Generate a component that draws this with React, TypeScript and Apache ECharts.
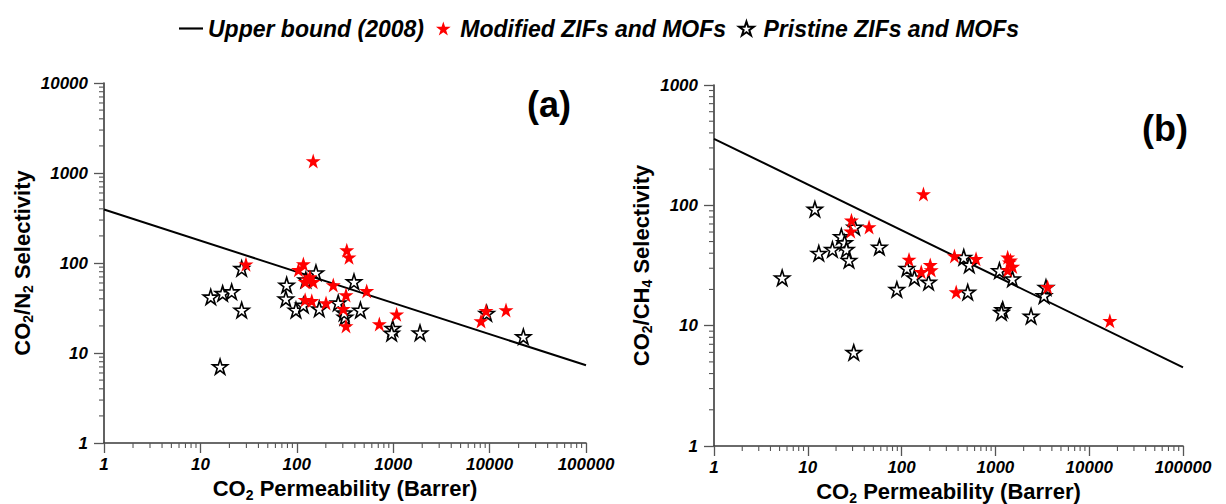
import React, { useEffect, useRef } from "react";
import * as echarts from "echarts";

// ---------- Legend / series names ----------
const NAME_BOUND = "Upper bound (2008)";
const NAME_MOD = "Modified ZIFs and MOFs";
const NAME_PRIS = "Pristine ZIFs and MOFs";

// ---------- Axis ranges (decades) ----------
const xRange = [1, 100000];
const yRangeA = [1, 10000];
const yRangeB = [1, 1000];

// ---------- Robeson upper bound (2008) end points ----------
const boundA = [
  [1, 393],
  [100000, 7.3],
];
const boundB = [
  [1, 357],
  [100000, 4.5],
];

// ---------- Panel (a): CO2/N2 ----------
const modifiedA = [
  [148, 1360], [330, 139], [348, 116], [29.7, 97], [117, 97.5], [104, 84],
  [137, 70], [130, 66], [122, 62], [148, 62], [239, 57], [531, 49], [324, 44],
  [122, 39], [143, 38], [201, 36], [304, 31], [324, 20], [718, 21], [1086, 27],
  [9180, 29.5], [8150, 22.7], [14800, 30],
];
const pristineA = [
  [26.8, 87], [12.8, 42], [17, 46], [21.1, 48], [26.8, 30], [16, 7.05],
  [78.5, 57], [77, 40], [98, 30], [158, 78], [124, 65], [117, 34], [171, 31],
  [392, 62], [269, 36], [316, 25], [310, 28], [457, 30], [988, 18.8], [964, 16.6],
  [1897, 16.8], [9330, 27.6], [22400, 15.2],
];

// ---------- Panel (b): CO2/CH4 ----------
const modifiedB = [
  [171, 124], [29.2, 75], [28.7, 61], [45, 66], [120, 35.5], [162, 28],
  [202, 32], [207, 29], [366, 38], [382, 19], [622, 36], [1352, 37],
  [1409, 33.7], [1528, 31], [1352, 29], [1450, 35], [3600, 21], [16600, 11],
];
const pristineB = [
  [5.33, 25], [11.9, 93], [13.1, 40], [18.3, 43], [22.8, 55], [24.7, 49],
  [25.8, 43], [27.5, 35], [31.6, 66], [58, 45], [30.9, 6.0], [89, 20],
  [114, 30], [137, 25], [194, 23], [460, 37], [527, 32], [507, 19],
  [1104, 28.7], [1520, 24.5], [1196, 13.6], [1160, 12.9], [2400, 12],
  [3300, 17.8], [3460, 20.8],
];

const STAR =
  "path://M0,-100 L22.45,-30.9 L95.1,-30.9 L36.3,11.8 L58.8,80.9 L0,38.2 L-58.8,80.9 L-36.3,11.8 L-95.1,-30.9 L-22.45,-30.9 Z";
const LINE_ICON = "path://M0,0 L100,0 L100,9 L0,9 Z";

const FONT = '"Liberation Sans", Arial, Helvetica, sans-serif';
const AXIS_COLOR = "#3a3a3a";
const TICK_COLOR = "#555555";

function minorValues(min: number, max: number): number[] {
  const out: number[] = [];
  for (let d = min; d < max; d *= 10) {
    for (let k = 2; k <= 9; k++) out.push(d * k);
  }
  return out;
}

const titleRich = {
  a: { fontFamily: FONT, fontWeight: "bold", fontSize: 22, color: "#000", lineHeight: 26, verticalAlign: "middle" },
  s: { fontFamily: FONT, fontWeight: "bold", fontSize: 14, color: "#000", lineHeight: 12, verticalAlign: "bottom" },
};

const tickLabel = {
  show: true,
  fontFamily: FONT,
  fontWeight: "bold",
  fontStyle: "italic",
  fontSize: 17,
  color: "#000",
  showMinLabel: true,
  showMaxLabel: true,
  formatter: (v: number) => String(Math.round(v)),
};

function xAxisFor(gridIndex: number, nameGap: number) {
  return {
    type: "log",
    logBase: 10,
    gridIndex,
    min: xRange[0],
    max: xRange[1],
    splitNumber: 5,
    name: "{a|CO}{s|2}{a| Permeability (Barrer)}",
    nameLocation: "middle",
    nameGap,
    nameTextStyle: { rich: titleRich },
    axisLine: { show: true, onZero: false, lineStyle: { color: AXIS_COLOR, width: 1.6 } },
    axisTick: { show: true, inside: false, length: 10, lineStyle: { color: TICK_COLOR, width: 1.3 } },
    axisLabel: { ...tickLabel, margin: 13 },
    splitLine: { show: false },
  };
}

function yAxisFor(gridIndex: number, range: number[], split: number, name: string, nameGap: number) {
  return {
    type: "log",
    logBase: 10,
    gridIndex,
    min: range[0],
    max: range[1],
    splitNumber: split,
    name,
    nameLocation: "middle",
    nameRotate: 90,
    nameGap,
    nameTextStyle: { rich: titleRich },
    axisLine: { show: true, onZero: false, lineStyle: { color: AXIS_COLOR, width: 1.6 } },
    axisTick: { show: true, inside: false, length: 10, lineStyle: { color: TICK_COLOR, width: 1.3 } },
    axisLabel: { ...tickLabel, margin: 16 },
    splitLine: { show: false },
  };
}

// Log-spaced minor ticks (2..9 per decade), positioned via the axis scale.
function minorTickSeries(axisIdx: number, dir: "x" | "y", values: number[], other: number) {
  return {
    type: "custom",
    coordinateSystem: "cartesian2d",
    xAxisIndex: axisIdx,
    yAxisIndex: axisIdx,
    silent: true,
    clip: false,
    z: 5,
    encode: { x: 0, y: 1 },
    data: values.map((v) => (dir === "x" ? [v, other] : [other, v])),
    renderItem: (_params: any, api: any) => {
      const p = api.coord([api.value(0), api.value(1)]);
      const shape =
        dir === "x"
          ? { x1: p[0], y1: p[1], x2: p[0], y2: p[1] + 5 }
          : { x1: p[0] - 5, y1: p[1], x2: p[0], y2: p[1] };
      return { type: "line", shape, style: { stroke: TICK_COLOR, lineWidth: 1.1, fill: null } };
    },
  };
}

function panelSeries(idx: number, bound: number[][], mod: number[][], pris: number[][]) {
  return [
    {
      name: NAME_BOUND,
      type: "line",
      xAxisIndex: idx,
      yAxisIndex: idx,
      data: bound,
      symbol: "none",
      lineStyle: { color: "#000", width: 2 },
      itemStyle: { color: "#000" },
      z: 2,
    },
    {
      name: NAME_PRIS,
      type: "scatter",
      xAxisIndex: idx,
      yAxisIndex: idx,
      data: pris,
      symbol: STAR,
      symbolSize: 15,
      itemStyle: { color: "#ffffff", borderColor: "#000", borderWidth: 1.6, opacity: 1 },
      z: 3,
    },
    {
      name: NAME_MOD,
      type: "scatter",
      xAxisIndex: idx,
      yAxisIndex: idx,
      data: mod,
      symbol: STAR,
      symbolSize: 15,
      itemStyle: { color: "#ff0000", opacity: 1 },
      z: 4,
    },
  ];
}

export default function App() {
  const ref = useRef<HTMLDivElement>(null);

  useEffect(() => {
    document.body.style.margin = "0";
    if (!ref.current) return;
    const chart = echarts.init(ref.current, undefined, { renderer: "svg" });
    const minorX = minorValues(xRange[0], xRange[1]);
    const option: any = {
      animation: false,
      backgroundColor: "#ffffff",
      legend: {
        top: 12,
        left: 174,
        itemWidth: 24,
        itemHeight: 14,
        itemGap: 12,
        textStyle: { fontFamily: FONT, fontWeight: "bold", fontStyle: "italic", fontSize: 23, color: "#000" },
        data: [
          { name: NAME_BOUND, icon: LINE_ICON },
          { name: NAME_MOD, icon: STAR },
          { name: NAME_PRIS, icon: STAR },
        ],
      },
      grid: [
        { left: 104, top: 83, width: 482, height: 360, containLabel: false, outerBoundsMode: "none" },
        { left: 714, top: 85, width: 469, height: 361, containLabel: false, outerBoundsMode: "none" },
      ],
      xAxis: [xAxisFor(0, 31), xAxisFor(1, 27)],
      yAxis: [
        yAxisFor(0, yRangeA, 4, "{a|CO}{s|2}{a|/N}{s|2}{a| Selectivity}", 69),
        yAxisFor(1, yRangeB, 3, "{a|CO}{s|2}{a|/CH}{s|4}{a| Selectivity}", 60),
      ],
      graphic: [
        { type: "text", x: 549, y: 104, style: { text: "(a)", font: `bold 36px ${FONT}`, fill: "#000", align: "center", verticalAlign: "middle" } },
        { type: "text", x: 1165, y: 128, style: { text: "(b)", font: `bold 36px ${FONT}`, fill: "#000", align: "center", verticalAlign: "middle" } },
      ],
      series: [
        minorTickSeries(0, "x", minorX, yRangeA[0]),
        minorTickSeries(0, "y", minorValues(yRangeA[0], yRangeA[1]), xRange[0]),
        minorTickSeries(1, "x", minorX, yRangeB[0]),
        minorTickSeries(1, "y", minorValues(yRangeB[0], yRangeB[1]), xRange[0]),
        ...panelSeries(0, boundA, modifiedA, pristineA),
        ...panelSeries(1, boundB, modifiedB, pristineB),
      ],
    };
    chart.setOption(option);
    return () => chart.dispose();
  }, []);

  return <div ref={ref} style={{ width: 1226, height: 504 }} />;
}
